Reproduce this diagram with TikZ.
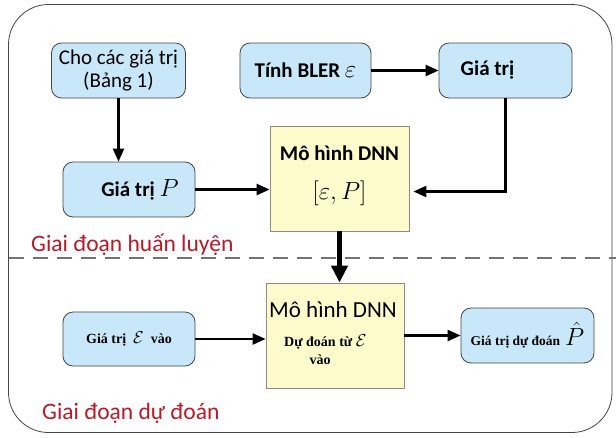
\documentclass[tikz,border=0pt]{standalone}
\usepackage{fontspec}
\setmainfont{Carlito}
\newfontfamily\tnr{Liberation Serif}
\usetikzlibrary{arrows.meta,calc}
\definecolor{boxblue}{RGB}{200,232,250}
\definecolor{boxyellow}{RGB}{253,251,204}
\definecolor{redtxt}{RGB}{185,25,40}
\definecolor{frame}{RGB}{70,70,70}
\tikzset{
  bluebox/.style={draw=frame, fill=boxblue, rounded corners=10pt, line width=0.8pt,
    minimum width=#1, minimum height=55pt, inner sep=0pt, align=center,
    font=\fontsize{21}{23}\selectfont},
  yelbox/.style={draw=black!45, fill=boxyellow, line width=0.8pt,
    minimum width=138pt, minimum height=105pt, inner sep=0pt},
  arr/.style={-{Triangle[length=13pt,width=11pt]}, line width=2.4pt},
  bigarr/.style={-{Triangle[length=17pt,width=16pt]}, line width=5pt},
  phase/.style={text=redtxt, anchor=west, inner sep=0pt, font=\fontsize{23.5}{26}\selectfont},
  smalltnr/.style={font=\tnr\bfseries\fontsize{14}{16}\selectfont, inner sep=0pt},
}
\begin{document}
\begin{tikzpicture}[x=1pt,y=-1pt]
\useasboundingbox (0,0) rectangle (616,437);
\fill[white] (0,0) rectangle (616,437);
\draw[frame, line width=0.8pt, rounded corners=40pt] (8.5,4.5) rectangle (612,432.5);
\draw[black!55, line width=1.2pt, dash pattern=on 15pt off 9pt] (8.5,258) -- (616,258);

% top row
\node[bluebox=134pt] (cho) at (118.5,70.5) {Cho các giá trị\\(Bảng 1)};
\node[bluebox=131pt] (bler) at (305.5,70.5) {\bfseries Tính BLER {\fontsize{24}{26}\selectfont$\varepsilon$}};
\node[bluebox=133pt] (gtop) at (505.5,70.5) {\bfseries Giá trị\hspace*{36pt}};
\node[bluebox=132pt] (gP) at (129,189.5) {\hspace*{22pt}\bfseries Giá trị {\fontsize{26}{28}\selectfont$P$}};

% DNN training box
\node[yelbox, minimum width=139pt] (dnn1) at (339.5,178.5) {};
\node[inner sep=0pt, font=\bfseries\fontsize{21}{24}\selectfont] (dnn1t) at (339.5,153) {Mô hình DNN};
\node[inner sep=0pt, font=\fontsize{27}{30}\selectfont] (dnn1m) at (339.5,193) {$\bigl[\varepsilon,P\bigr]$};

% phase labels
\node[phase] (ph1) at (31,245) {Giai đoạn huấn luyện};
\node[phase] (ph2) at (42,413) {Giai đoạn dự đoán};

% prediction row
\node[bluebox=132pt, minimum height=54pt] (geps) at (129,339) {\tnr\bfseries\fontsize{14}{16}\selectfont Giá trị \ {\fontsize{17}{18}\selectfont$\mathcal{E}$} \ vào};
\node[yelbox] (dnn2) at (335,335.5) {};
\node[inner sep=0pt, font=\fontsize{23}{26}\selectfont] (dnn2t) at (333,310) {Mô hình DNN};
\node[smalltnr, anchor=west] (dnn2a) at (284,342) {Dự đoán từ {\fontsize{17}{18}\selectfont$\mathcal{E}$}};
\node[smalltnr] (dnn2b) at (320,360) {vào};
\node[bluebox=133pt] (gphat) at (527.5,335.5) {\tnr\bfseries\fontsize{13.5}{16}\selectfont Giá trị dự đoán\hspace{5pt}{\fontsize{23}{26}\selectfont$\hat{P}$}};

% connectors
\coordinate (rin) at ($(dnn1.east |- gP.east)+(4,2)$);
\draw[arr] (cho.south) -- (cho.south |- gP.north);
\draw[arr] (bler.east) -- (gtop.west);
\draw[arr] (gP.east) -- (gP.east -| dnn1.west);
\draw[arr] (gtop.south) |- (rin);
\draw[bigarr] (dnn1.south) -- (dnn1.south |- dnn2.north);
\draw[arr] (geps.east) -- (geps.east -| dnn2.west);
\draw[arr] (dnn2.east) -- (gphat.west);
\end{tikzpicture}
\end{document}
